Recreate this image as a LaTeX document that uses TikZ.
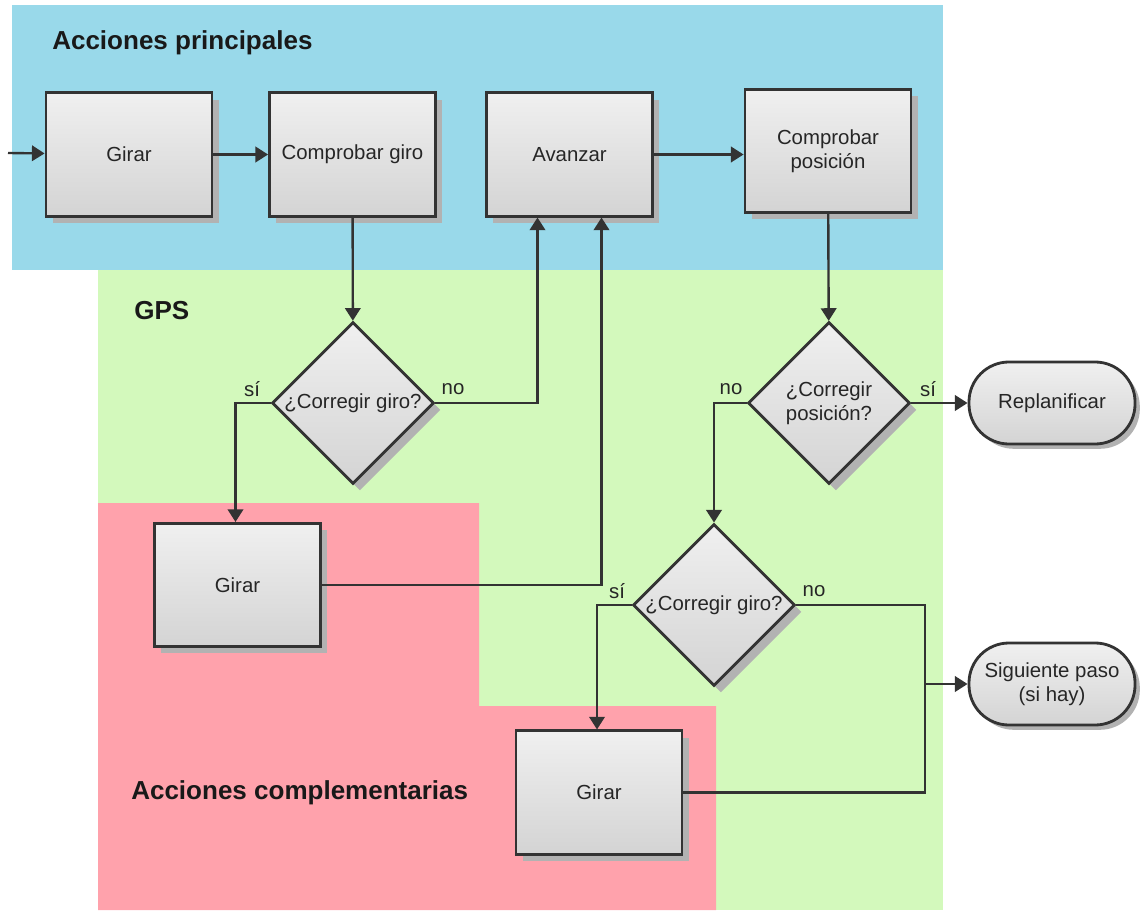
\documentclass[tikz,border=0pt]{standalone}
\usepackage{fontspec}
\setmainfont{Liberation Sans}
\usepackage{tikz}
\usetikzlibrary{positioning, arrows.meta, shapes.geometric, shadows}
\definecolor{azul}{RGB}{153,217,234}
\definecolor{verde}{RGB}{211,249,188}
\definecolor{rosa}{RGB}{255,162,172}
\definecolor{borde}{RGB}{51,51,51}
\tikzset{
  caja/.style={rectangle, draw=borde, line width=2pt, top color=black!6, bottom color=black!17,
    minimum width=4.15cm, minimum height=3.08cm, text=black!85, align=center,
    font=\fontsize{14.5}{17}\selectfont,
    drop shadow={shadow xshift=0.17cm, shadow yshift=-0.17cm, fill=black!30, opacity=1}},
  rombo/.style={diamond, aspect=1, draw=borde, line width=2pt, top color=black!6, bottom color=black!17,
    minimum width=4.05cm, minimum height=4.05cm, inner sep=0pt, text=black!85, align=center,
    font=\fontsize{14.5}{17}\selectfont,
    drop shadow={shadow xshift=0.17cm, shadow yshift=-0.17cm, fill=black!30, opacity=1}},
  fin/.style={rectangle, rounded corners=1cm, draw=borde, line width=2pt, top color=black!6, bottom color=black!17,
    minimum width=4.15cm, minimum height=2.05cm, text=black!85, align=center,
    font=\fontsize{14.5}{17}\selectfont,
    drop shadow={shadow xshift=0.12cm, shadow yshift=-0.12cm, fill=black!30, opacity=1}},
  flecha/.style={-{Triangle[length=9pt,width=11pt]}, draw=borde, line width=1.7pt},
  linea/.style={draw=borde, line width=1.7pt},
  etiq/.style={font=\fontsize{14.5}{17}\selectfont, text=black!85},
  zona/.style={font=\bfseries\fontsize{18.5}{22}\selectfont, text=black!90, inner sep=0pt}
}
\begin{document}
\begin{tikzpicture}[x=0.025cm, y=-0.025cm]
\useasboundingbox (0,0) rectangle (1142,911);
\fill[azul] (12,5) rectangle (943,270);
\fill[verde] (98,270) rectangle (943,910);
\fill[rosa] (98,503) -- (479,503) -- (479,706) -- (716,706) -- (716,910) -- (98,910) -- cycle;
\node[zona, anchor=west] at (52,43) (t1) {Acciones principales};
\node[zona, anchor=west] at (134,311) (t2) {GPS};
\node[zona, anchor=west] at (131,793) (t3) {Acciones complementarias};
\node[caja] at (129,154.5) (g1) {Girar};
\node[caja] at (352.5,154.5) (cg) {Comprobar giro};
\node[caja] at (569.5,154.5) (av) {Avanzar};
\node[caja] at (828,151) (cp) {Comprobar\\posición};
\node[rombo] at (353,403) (d1) {¿Corregir giro?};
\node[rombo] at (829,403) (d2) {¿Corregir\\posición?};
\node[rombo] at (714,605) (d3) {¿Corregir giro?};
\node[caja] at (237.5,585) (g2) {Girar};
\node[caja] at (599,792.5) (g3) {Girar};
\node[fin] at (1052,403) (rp) {Replanificar};
\node[fin] at (1052,684) (sp) {Siguiente paso\\(si hay)};
\coordinate (ini) at (8,153);
\coordinate (jn) at (925,684);
\draw[flecha] (ini) -- (g1);
\draw[flecha] (g1) -- (cg);
\draw[flecha] (cg) -- (d1);
\draw[flecha] (d1.east) -| ([xshift=-0.8cm]av.south);
\draw[flecha] (d1.west) -| ([xshift=-0.05cm]g2.north);
\draw[flecha] (g2.east) -| ([xshift=0.8cm]av.south);
\draw[flecha] (av.east) -- (av.east -| cp.west);
\draw[flecha] (cp) -- (d2);
\draw[flecha] (d2.east) -- (rp);
\draw[flecha] (d2.west) -| (d3.north);
\draw[flecha] (d3.west) -| ([xshift=-0.05cm]g3.north);
\draw[linea] (d3.east) -| (jn);
\draw[linea] (g3.east) -| (jn);
\draw[flecha] (jn) -- (sp);
\node[etiq] at (252,389) (s1) {sí};
\node[etiq] at (453,389) (n1) {no};
\node[etiq] at (731,389) (n2) {no};
\node[etiq] at (928,389) (s2) {sí};
\node[etiq] at (617,591) (s3) {sí};
\node[etiq] at (814,591) (n3) {no};
\end{tikzpicture}
\end{document}
